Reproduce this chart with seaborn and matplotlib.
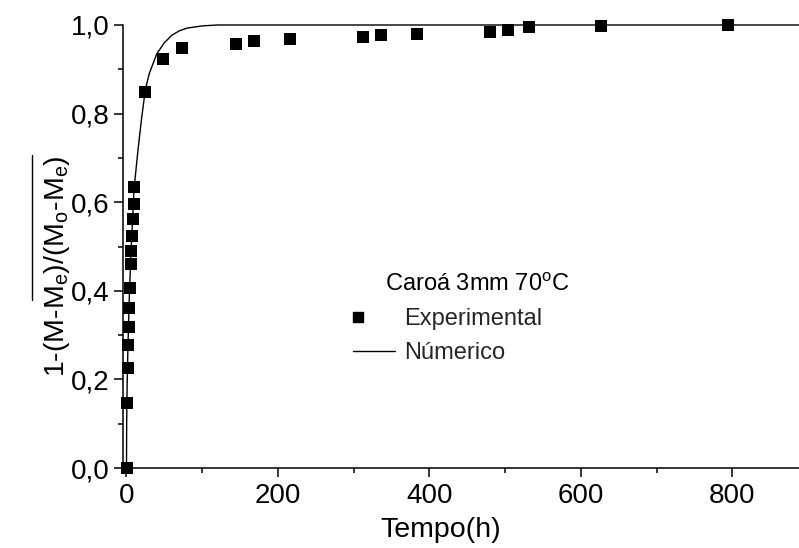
import matplotlib
matplotlib.use("Agg")
import matplotlib.pyplot as plt
import seaborn as sns
import pandas as pd
from matplotlib.lines import Line2D
from matplotlib.legend_handler import HandlerLine2D

# ---------------- data ----------------
exp_t = [0.6, 1.1, 2.0, 2.4, 2.9, 3.3, 4.2, 5.5, 6.4, 7.7, 8.6, 9.5, 10.3,
         24.4, 48.6, 72.8, 144, 168, 216, 312, 336, 383.5, 479.4, 503, 531, 627, 794.5]
exp_y = [0.0, 0.147, 0.225, 0.278, 0.318, 0.361, 0.407, 0.460, 0.490, 0.524, 0.562, 0.597, 0.634,
         0.849, 0.923, 0.949, 0.958, 0.964, 0.968, 0.972, 0.977, 0.980, 0.984, 0.988, 0.995, 0.998, 1.0]

num_t = [0, 0.25, 1, 2, 4, 6, 8, 10, 15, 20, 25, 30, 40, 50, 60, 70, 80, 100, 120, 200, 400, 600, 900]
num_y = [0, 0.10, 0.20, 0.28, 0.40, 0.49, 0.56, 0.63, 0.715, 0.79, 0.855, 0.89, 0.935, 0.96, 0.977,
         0.987, 0.993, 0.998, 1.0, 1.0, 1.0, 1.0, 1.0]

xticks = [0, 200, 400, 600, 800]
xtick_labels = ["0", "200", "400", "600", "800"]
yticks = [0.0, 0.2, 0.4, 0.6, 0.8, 1.0]
ytick_labels = ["0,0", "0,2", "0,4", "0,6", "0,8", "1,0"]

legend_title = "Caroá 3mm 70$^{\\rm o}$C"
label_exp = "Experimental"
label_num = "Númerico"
xlabel = "Tempo(h)"
ylabel = "1-(M-M$_{\\rm e}$)/(M$_{\\rm o}$-M$_{\\rm e}$)"

df_exp = pd.DataFrame({"t": exp_t, "y": exp_y})
df_num = pd.DataFrame({"t": num_t, "y": num_y})

# ---------------- style ----------------
sns.set_theme(style="ticks")
plt.rcParams["font.family"] = ["Liberation Sans", "DejaVu Sans"]
plt.rcParams["mathtext.fontset"] = "custom"
plt.rcParams["mathtext.rm"] = "Liberation Sans"
plt.rcParams["mathtext.it"] = "Liberation Sans"
plt.rcParams["mathtext.default"] = "regular"

fig = plt.figure(figsize=(7.99, 5.48), dpi=100)
ax = fig.add_axes([123 / 799, 1 - 468 / 548, 1 - 123 / 799, (468 - 25) / 548])

sns.lineplot(data=df_num, x="t", y="y", ax=ax, color="black", linewidth=1.0,
             sort=False, estimator=None, label=label_num, clip_on=False, legend=False)
sns.scatterplot(data=df_exp, x="t", y="y", ax=ax, color="black", marker="s", s=70,
                linewidth=0, label=label_exp, clip_on=False, zorder=3, legend=False)

ax.set_xlim(-4.6, 887.8)
ax.set_ylim(0, 1.0)
ax.set_xticks(xticks)
ax.set_xticklabels(xtick_labels)
ax.set_yticks(yticks)
ax.set_yticklabels(ytick_labels)
ax.set_xticks([100, 300, 500, 700], minor=True)
ax.set_yticks([0.1, 0.3, 0.5, 0.7, 0.9], minor=True)
ax.tick_params(which="major", direction="out", length=6.5, width=1.1, labelsize=20,
               color="black", labelcolor="black")
ax.tick_params(axis="x", which="major", pad=4)
ax.tick_params(axis="y", which="major", pad=3)
ax.tick_params(which="minor", direction="out", length=3.5, width=1.1, color="black")

for s in ["top", "right"]:
    ax.spines[s].set_visible(False)
for s in ["left", "bottom"]:
    ax.spines[s].set_linewidth(1.1)
    ax.spines[s].set_color("black")

ax.set_xlabel(xlabel, fontsize=20.5, color="black")
ax.xaxis.set_label_coords(0.47, -0.11)
ax.set_ylabel(ylabel, fontsize=20.5, color="black")
ax.yaxis.set_label_coords(-0.076, 0.455)

# overline at the left of the y label
fig.add_artist(Line2D([32 / 799, 32 / 799], [1 - 155 / 548, 1 - 300 / 548],
                      transform=fig.transFigure, color="black", linewidth=1.0))


class LeftMarkerHandler(HandlerLine2D):
    def get_xdata(self, legend, xdescent, ydescent, width, height, fontsize):
        xm = -xdescent + width * 0.12
        return [xm, xm], [xm]


handles = [Line2D([], [], color="black", marker="s", linestyle="none", markersize=7.5),
           Line2D([], [], color="black", linewidth=1.0)]
fig.legend(handles, [label_exp, label_num], loc="upper left",
           bbox_to_anchor=(353 / 799, 1 - 308 / 548), frameon=False, fontsize=17,
           handlelength=1.78, handletextpad=0.38, labelspacing=0.52,
           borderpad=0, borderaxespad=0,
           handler_map={handles[0]: LeftMarkerHandler()})
fig.text(385 / 799, 1 - 285 / 548, legend_title, fontsize=17, va="center", ha="left",
         color="black")

fig.savefig("out.png", dpi=100)
